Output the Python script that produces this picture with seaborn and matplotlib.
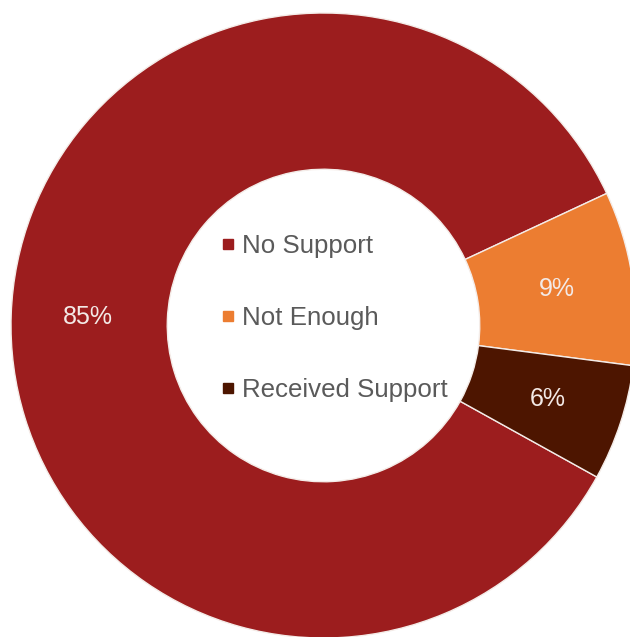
import matplotlib
matplotlib.use("Agg")
import matplotlib.pyplot as plt
from matplotlib.lines import Line2D
import numpy as np
import seaborn as sns

# Survey answers about the support received
categories = ["No Support", "Not Enough", "Received Support"]
shares = [85, 9, 6]
pct_labels = ["85%", "9%", "6%"]
colors = ["#9C1D1E", "#EC7D31", "#4D1500"]

sns.set_theme(style="white")
plt.rcParams["font.family"] = ["Liberation Sans", "DejaVu Sans"]
palette = sns.color_palette(colors)

fig = plt.figure(figsize=(6.30, 6.37), dpi=100)
ax = fig.add_axes([0, 0, 1, 1])

start = -29.0
wedges, _ = ax.pie(
    shares,
    colors=palette,
    startangle=start,
    counterclock=False,
    radius=1.0,
    wedgeprops=dict(width=0.5, edgecolor="#F4ECE8", linewidth=1.0),
)

# percentage labels placed inside each ring segment
theta = start
for share, lab in zip(shares, pct_labels):
    span = share / sum(shares) * 360.0
    mid = np.deg2rad(theta - span / 2)
    r = 0.755
    ax.text(r * np.cos(mid), r * np.sin(mid), lab, ha="center", va="center",
            color="#F3E9E6", fontsize=18)
    theta -= span

# ring is centred slightly off the canvas middle and runs past the right/bottom edges
R = 312.5
ax.set_xlim(-323.5 / R, 306.5 / R)
ax.set_ylim(-311.5 / R, 325.5 / R)
ax.set_aspect("auto")
ax.axis("off")

handles = [Line2D([0], [0], marker="s", linestyle="none", markersize=7.9,
                  markerfacecolor=c, markeredgecolor=c) for c in palette]
leg = ax.legend(handles, categories, loc="center left",
                bbox_to_anchor=(220 / 630, 1 - 318 / 637),
                bbox_transform=fig.transFigure, frameon=False,
                fontsize=18.6, labelspacing=1.85, handlelength=0.6,
                handletextpad=0.26, borderpad=0, borderaxespad=0,
                labelcolor="#5A5A5A")

fig.savefig("out.png", dpi=100, facecolor="white")
